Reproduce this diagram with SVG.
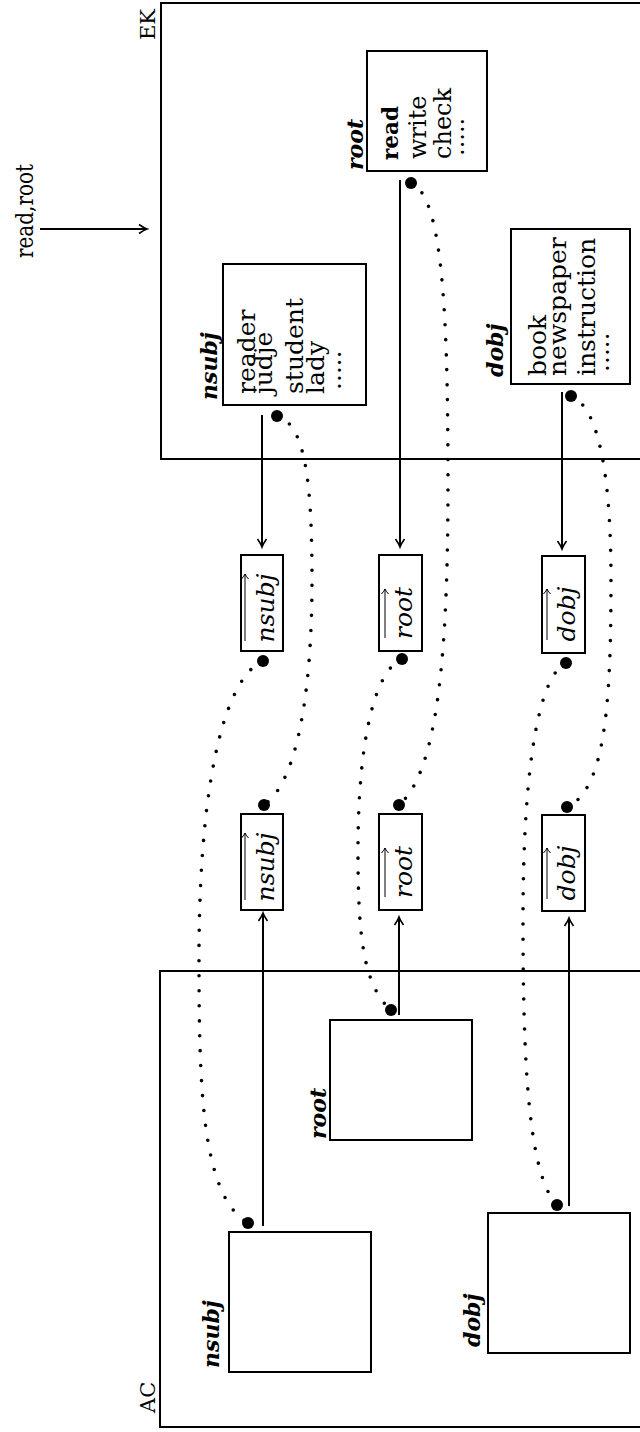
<svg xmlns="http://www.w3.org/2000/svg" width="640" height="1432" viewBox="0 0 640 1432">
<style>
.box{fill:none;stroke:#000;stroke-width:2}
.sbox{fill:#fff;stroke:#000;stroke-width:2}
.t{font-family:"DejaVu Serif","Liberation Serif",serif;font-size:25px;fill:#000}
.t2{font-family:"DejaVu Serif","Liberation Serif",serif;font-size:24px;fill:#000}
.tb{font-family:"DejaVu Serif","Liberation Serif",serif;font-size:23px;font-weight:bold;fill:#000}
.lab{font-family:"DejaVu Serif","Liberation Serif",serif;font-size:22px;font-weight:bold;font-style:italic;fill:#000}
.m{font-family:"DejaVu Serif","Liberation Serif",serif;font-size:25px;font-style:italic;fill:#000;text-anchor:middle}
.big{font-family:"DejaVu Serif","Liberation Serif",serif;font-size:21px;fill:#000}
.in{font-family:"DejaVu Serif","Liberation Serif",serif;font-size:24px;fill:#000}
.arr{fill:none;stroke:#000;stroke-width:2;marker-end:url(#ah)}
.sarr{fill:none;stroke:#000;stroke-width:1;marker-end:url(#sah)}
.dot{fill:none;stroke:#000;stroke-width:3.6;stroke-linecap:round;stroke-dasharray:0 15}
.bd{fill:#000}
</style>
<defs>
<marker id="ah" viewBox="-10 -6 12 12" refX="0" refY="0" markerWidth="12" markerHeight="12" orient="auto" markerUnits="userSpaceOnUse">
<path d="M-8,-4.5 Q-3,-1 0,0 Q-3,1 -8,4.5" fill="none" stroke="#000" stroke-width="1.6"/>
</marker>
<marker id="sah" viewBox="-8 -5 10 10" refX="0" refY="0" markerWidth="10" markerHeight="10" orient="auto" markerUnits="userSpaceOnUse">
<path d="M-5,-3.5 Q-2,-0.8 0,0 Q-2,0.8 -5,3.5" fill="none" stroke="#000" stroke-width="1"/>
</marker>
</defs>

<g id="input">
<text class="in" transform="translate(33,258) rotate(-90)" textLength="94" lengthAdjust="spacingAndGlyphs">read,root</text>
</g>

<g id="EK">
<rect class="box" x="161" y="3" width="482" height="456"/>
<text class="big" transform="translate(155,40) rotate(-90)">EK</text>
</g>

<g id="AC">
<rect class="box" x="160" y="971" width="482" height="456"/>
<text class="big" transform="translate(155,1413) rotate(-90)">AC</text>
</g>

<g id="ek-nsubj">
<rect class="box" x="223" y="264" width="143" height="141"/>
<text class="lab" transform="translate(217,400) rotate(-90)">nsubj</text>
<text class="t" transform="translate(255,394) rotate(-90)">reader</text>
<text class="t" transform="translate(272,394) rotate(-90)">judje</text>
<text class="t" transform="translate(303,394) rotate(-90)">student</text>
<text class="t" transform="translate(324,394) rotate(-90)">lady</text>
<text class="t" transform="translate(341,390) rotate(-90)">.....</text>
</g>

<g id="ek-root">
<rect class="box" x="367" y="51" width="120" height="120"/>
<text class="lab" transform="translate(363,170) rotate(-90)">root</text>
<text class="tb" transform="translate(398,160) rotate(-90)" textLength="54" lengthAdjust="spacingAndGlyphs">read</text>
<text class="t2" transform="translate(426,159) rotate(-90)">write</text>
<text class="t2" transform="translate(451,159) rotate(-90)">check</text>
<text class="t2" transform="translate(464,156) rotate(-90)">.....</text>
</g>

<g id="ek-dobj">
<rect class="box" x="511" y="229" width="119" height="155"/>
<text class="lab" transform="translate(503,377) rotate(-90)">dobj</text>
<text class="t" transform="translate(546,376) rotate(-90)">book</text>
<text class="t" transform="translate(566,376) rotate(-90)">newspaper</text>
<text class="t" transform="translate(595,376) rotate(-90)">instruction</text>
<text class="t" transform="translate(609,372) rotate(-90)">.....</text>
</g>

<g id="r1-nsubj">
<rect class="sbox" x="241" y="555" width="42" height="96"/>
<text class="m" transform="translate(274,608) rotate(-90)">nsubj</text>
<line class="sarr" x1="245" y1="641" x2="245" y2="574"/>
</g>
<g id="r1-root">
<rect class="sbox" x="379" y="555" width="43" height="96"/>
<text class="m" transform="translate(412,613) rotate(-90)">root</text>
<line class="sarr" x1="385" y1="638" x2="385" y2="589"/>
</g>
<g id="r1-dobj">
<rect class="sbox" x="542" y="556" width="43" height="97"/>
<text class="m" transform="translate(575,614) rotate(-90)">dobj</text>
<line class="sarr" x1="547" y1="640" x2="547" y2="589"/>
</g>

<g id="r2-nsubj">
<rect class="sbox" x="241" y="814" width="42" height="96"/>
<text class="m" transform="translate(274,867) rotate(-90)">nsubj</text>
<line class="sarr" x1="245" y1="900" x2="245" y2="833"/>
</g>
<g id="r2-root">
<rect class="sbox" x="379" y="814" width="43" height="96"/>
<text class="m" transform="translate(412,872) rotate(-90)">root</text>
<line class="sarr" x1="385" y1="897" x2="385" y2="848"/>
</g>
<g id="r2-dobj">
<rect class="sbox" x="542" y="815" width="43" height="96"/>
<text class="m" transform="translate(575,873) rotate(-90)">dobj</text>
<line class="sarr" x1="547" y1="899" x2="547" y2="848"/>
</g>

<g id="ac-nsubj">
<rect class="box" x="229" y="1232" width="142" height="140"/>
<text class="lab" transform="translate(219,1368) rotate(-90)">nsubj</text>
</g>
<g id="ac-root">
<rect class="box" x="330" y="1020" width="142" height="120"/>
<text class="lab" transform="translate(326,1139) rotate(-90)">root</text>
</g>
<g id="ac-dobj">
<rect class="box" x="488" y="1213" width="142" height="140"/>
<text class="lab" transform="translate(480,1347) rotate(-90)">dobj</text>
</g>

<g id="connectors">
<line class="arr" x1="40" y1="229" x2="147" y2="229"/>
<line class="arr" x1="262" y1="415" x2="262" y2="547"/>
<line class="arr" x1="400" y1="180" x2="400" y2="547"/>
<line class="arr" x1="562" y1="392" x2="562" y2="549"/>
<line class="arr" x1="263" y1="1226" x2="263" y2="913"/>
<line class="arr" x1="399" y1="1015" x2="399" y2="917"/>
<line class="arr" x1="569" y1="1206" x2="569" y2="918"/>

<path class="dot" d="M277,416 C305,424 312,480 312,580 C312,680 300,780 264,805"/>
<path class="dot" d="M263,661 C230,675 200,760 199,950 C199,1080 200,1195 248,1223"/>
<path class="dot" d="M411,183 C440,195 448,290 448,480 C448,640 440,770 399,805"/>
<path class="dot" d="M402,659 C375,670 358,740 358,850 C358,930 362,985 391,1010"/>
<path class="dot" d="M571,396 C595,405 611,460 611,580 C611,700 606,790 567,807"/>
<path class="dot" d="M566,663 C540,675 523,760 523,920 C523,1060 528,1175 557,1205"/>

<circle class="bd" cx="277" cy="416" r="6"/>
<circle class="bd" cx="411" cy="183" r="6"/>
<circle class="bd" cx="571" cy="396" r="6"/>
<circle class="bd" cx="263" cy="661" r="6"/>
<circle class="bd" cx="402" cy="659" r="6"/>
<circle class="bd" cx="566" cy="663" r="6"/>
<circle class="bd" cx="264" cy="805" r="6"/>
<circle class="bd" cx="399" cy="805" r="6"/>
<circle class="bd" cx="567" cy="807" r="6"/>
<circle class="bd" cx="248" cy="1223" r="6"/>
<circle class="bd" cx="391" cy="1010" r="6"/>
<circle class="bd" cx="557" cy="1205" r="6"/>
</g>
</svg>
